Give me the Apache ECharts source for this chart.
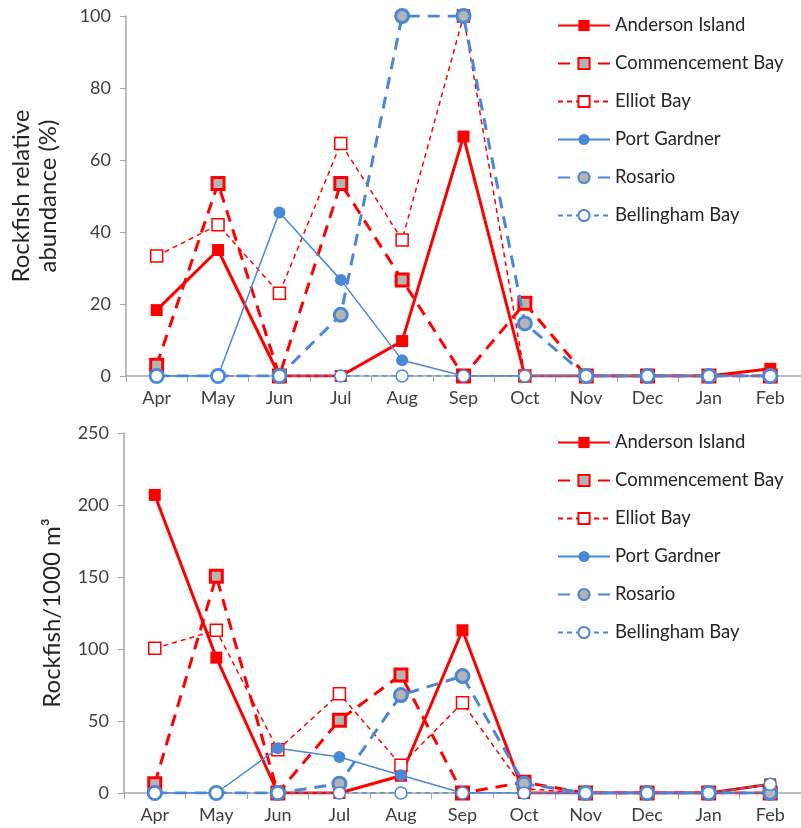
<!DOCTYPE html>
<html>
<head>
<meta charset="utf-8">
<script src="https://cdn.jsdelivr.net/npm/echarts@6/dist/echarts.min.js"></script>
<style>
  html, body { margin: 0; padding: 0; background: #fff; }
  #chart { width: 801px; height: 828px; }
</style>
</head>
<body>
<div id="chart"></div>
<script>
  // months sampled
  const months = ['Apr', 'May', 'Jun', 'Jul', 'Aug', 'Sep', 'Oct', 'Nov', 'Dec', 'Jan', 'Feb']
  const sites = ['Anderson Island', 'Commencement Bay', 'Elliot Bay', 'Port Gardner', 'Rosario', 'Bellingham Bay']

  // top panel: relative abundance (%)
  const pctAnderson = [18.3, 35, 0, 0, 9.7, 66.5, 0, 0, 0, 0, 2]
  const pctCommencement = [3, 53.5, 0, 53.5, 26.7, 0, 20.2, 0, 0, 0, 0]
  const pctElliot = [33.3, 42, 23, 64.6, 37.8, 100, 0, 0, 0, 0, 0]
  const pctPortGardner = [0, 0, 45.4, 26.7, 4.4, 0, 0, 0, 0, 0, 0]
  const pctRosario = [0, 0, 0, 17, 100, 100, 14.6, 0, 0, 0, 0]
  const pctBellingham = [0, 0, 0, 0, 0, 0, 0, 0, 0, 0, 0]

  // bottom panel: density (fish / 1000 m3)
  const denAnderson = [207, 94, 0, 0, 12, 113, 0, 0, 0, 0, 6]
  const denCommencement = [6.5, 150.5, 0, 50.6, 82, 0, 7.5, 0, 0, 0, 0]
  const denElliot = [100.5, 113, 30, 69, 19.3, 62.6, 3, 0, 0, 0, 0]
  const denPortGardner = [0, 0, 31, 25, 12.3, 0, 0, 0, 0, 0, 0]
  const denRosario = [0, 0, 0, 6.5, 68, 81.2, 6.5, 0, 0, 0, 0]
  const denBellingham = [0, 0, 0, 0, 0, 0, 0, 0, 0, 0, 6]

  const topTicks = [0, 20, 40, 60, 80, 100]
  const bottomTicks = [0, 50, 100, 150, 200, 250]

  const RED = '#ff0000'
  const BLUE = '#4a88d6'
  const GRAY = '#b4b4b4'
  const AXIS = '#a6a6a6'
  const FONT = 'Lato'

  const styles = [
    { symbol: 'rect', size: 12, fill: RED, border: RED, bw: 0, lw: 3, dash: 'solid' },
    { symbol: 'rect', size: 12, fill: GRAY, border: RED, bw: 3, lw: 3, dash: [12, 8] },
    { symbol: 'rect', size: 12, fill: '#fff', border: RED, bw: 1.5, lw: 1.5, dash: [5, 4] },
    { symbol: 'circle', size: 12, fill: BLUE, border: BLUE, bw: 0, lw: 1.5, dash: 'solid' },
    { symbol: 'circle', size: 13, fill: GRAY, border: BLUE, bw: 3, lw: 3, dash: [12, 8] },
    { symbol: 'circle', size: 12, fill: '#fff', border: BLUE, bw: 1.5, lw: 1.5, dash: [5, 4] }
  ]

  function makeSeries(dataList, idx) {
    return dataList.map((d, i) => {
      let s = styles[i]
      return {
        name: sites[i],
        type: 'line',
        xAxisIndex: idx,
        yAxisIndex: idx,
        data: d,
        symbol: s.symbol,
        symbolSize: s.size,
        showAllSymbol: true,
        itemStyle: { color: s.fill, borderColor: s.border, borderWidth: s.bw },
        lineStyle: { color: s.border, width: s.lw, type: s.dash },
        emphasis: { disabled: true },
        z: 2 + i
      }
    })
  }

  function xAxis(gridIndex) {
    return {
      type: 'category',
      gridIndex: gridIndex,
      data: months,
      boundaryGap: true,
      axisLine: { lineStyle: { color: AXIS, width: 1.5 } },
      axisTick: { show: true, length: 6, lineStyle: { color: AXIS } },
      axisLabel: { color: '#404040', fontSize: 18, fontFamily: FONT, margin: 13 },
      splitLine: { show: false }
    }
  }

  function yAxis(gridIndex, ticks, name, gap) {
    let step = ticks[1] - ticks[0]
    return {
      type: 'value',
      gridIndex: gridIndex,
      min: ticks[0],
      max: ticks[ticks.length - 1],
      interval: step,
      name: name,
      nameLocation: 'middle',
      nameGap: gap,
      nameTextStyle: { color: '#262626', fontSize: 24, fontFamily: FONT, lineHeight: 27 },
      axisLine: { show: true, lineStyle: { color: AXIS, width: 1.5 } },
      axisTick: { show: true, length: 6, lineStyle: { color: AXIS } },
      axisLabel: { color: '#404040', fontSize: 18, fontFamily: FONT, margin: 15 },
      splitLine: { show: false }
    }
  }

  function legend(top) {
    return {
      data: sites,
      orient: 'vertical',
      left: 552,
      top: top,
      itemWidth: 52,
      itemHeight: 14,
      itemGap: 19,
      textStyle: { color: '#262626', fontSize: 18.5, fontFamily: FONT },
      selectedMode: false
    }
  }

  const chart = echarts.init(document.getElementById('chart'), null, { renderer: 'canvas' })
  chart.setOption({
    animation: false,
    backgroundColor: '#fff',
    grid: [
      { left: 124, top: 16, width: 682, height: 360 },
      { left: 124, top: 433, width: 682, height: 360 }
    ],
    legend: [legend(11), legend(428)],
    xAxis: [xAxis(0), xAxis(1)],
    yAxis: [
      yAxis(0, topTicks, 'Rockfish relative\nabundance (%)', 64),
      yAxis(1, bottomTicks, 'Rockfish/1000 m³', 58)
    ],
    series: makeSeries([pctAnderson, pctCommencement, pctElliot, pctPortGardner, pctRosario, pctBellingham], 0)
      .concat(makeSeries([denAnderson, denCommencement, denElliot, denPortGardner, denRosario, denBellingham], 1))
  })
</script>
</body>
</html>
